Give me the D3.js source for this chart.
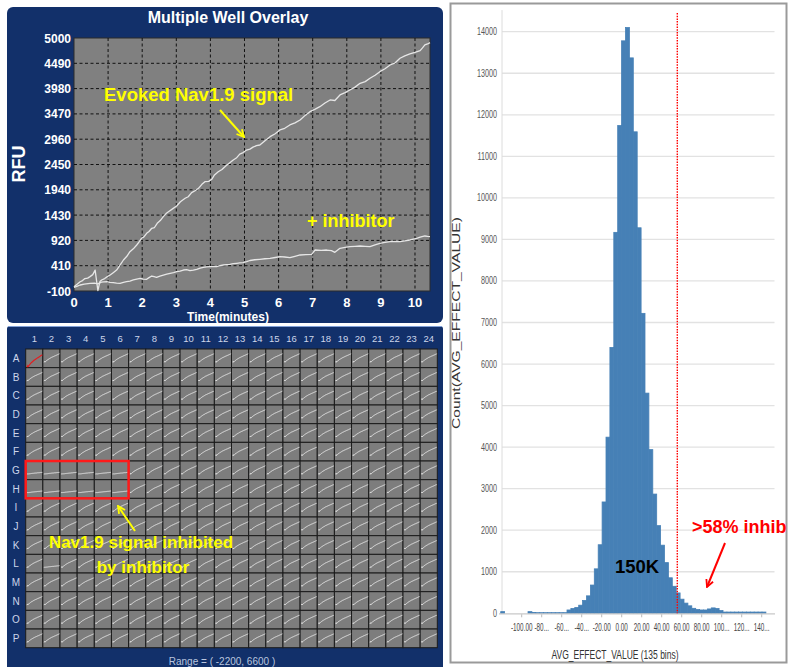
<!DOCTYPE html>
<html><head><meta charset="utf-8">
<script src="https://cdn.jsdelivr.net/npm/d3@7"></script>
<style>body{margin:0;background:#fff}svg{display:block}</style>
</head><body>
<svg id="c" width="796" height="667"></svg>
<script>
// ---------- DATA ----------
// Multiple Well Overlay traces (time in minutes, RFU)
const evokedTime = [0,0.1,0.18,0.25,0.32,0.4,0.47,0.55,0.62,0.7,0.76,0.81,0.9,1.0,1.06,1.15,1.25,1.35,1.45,1.55,1.64,1.74,1.84,1.92,1.98,2.05,2.13,2.2,2.28,2.36,2.44,2.53,2.62,2.7,2.77,2.9,3.01,3.12,3.26,3.35,3.45,3.55,3.65,3.75,3.84,3.95,4.04,4.12,4.23,4.34,4.45,4.56,4.67,4.76,4.86,4.96,5.06,5.16,5.25,5.35,5.45,5.6,5.75,5.9,6.04,6.18,6.33,6.48,6.63,6.78,6.92,7.06,7.21,7.36,7.51,7.65,7.8,7.95,8.09,8.24,8.39,8.54,8.68,8.83,8.97,9.12,9.27,9.42,9.56,9.7,9.85,10.0,10.15,10.22,10.29,10.37,10.44];
const evokedRFU = [-13,40,87,110,150,160,190,230,320,-90,90,122,150,200,222,270,323,420,525,600,692,750,827,900,962,990,1063,1100,1164,1180,1265,1320,1398,1460,1499,1560,1613,1700,1769,1800,1882,1920,1970,2050,2103,2110,2152,2240,2305,2350,2420,2480,2541,2580,2660,2690,2742,2760,2800,2830,2843,2930,3011,3070,3146,3180,3247,3290,3348,3440,3515,3560,3616,3690,3751,3740,3852,3900,3952,4010,4087,4120,4188,4250,4321,4380,4456,4500,4591,4640,4678,4710,4745,4800,4860,4880,4906];
const inhibTime = [0,0.1,0.18,0.3,0.47,0.6,0.7,0.8,0.96,1.05,1.15,1.25,1.35,1.45,1.54,1.64,1.74,1.84,1.94,2.03,2.13,2.2,2.28,2.35,2.42,2.52,2.62,2.72,2.82,2.92,3.01,3.11,3.21,3.3,3.4,3.5,3.6,3.7,3.79,3.89,3.99,4.08,4.18,4.28,4.38,4.47,4.57,4.67,4.77,4.86,4.96,5.06,5.16,5.3,5.45,5.6,5.75,5.9,6.04,6.18,6.33,6.48,6.63,6.8,6.97,7.07,7.25,7.41,7.55,7.65,7.8,7.95,8.09,8.24,8.39,8.54,8.68,8.83,8.97,9.12,9.27,9.42,9.56,9.7,9.85,9.95,10.05,10.15,10.29,10.37,10.44];
const inhibRFU = [-25,0,21,40,55,60,45,80,87,75,67,60,55,75,87,100,122,140,156,140,136,170,202,190,176,200,222,240,257,270,289,300,323,330,310,320,337,360,378,385,390,395,390,410,424,430,438,450,458,465,471,490,515,530,539,550,559,575,592,585,572,600,626,632,640,726,720,726,715,680,761,780,793,800,807,800,793,830,861,880,894,900,894,910,928,945,962,985,1009,1000,995];
const rfuTicks = [-100,410,920,1430,1940,2450,2960,3470,3980,4490,5000];
const timeTicks = [0,1,2,3,4,5,6,7,8,9,10];

// 384-well plate
const plateCols = ["1","2","3","4","5","6","7","8","9","10","11","12","13","14","15","16","17","18","19","20","21","22","23","24"];
const plateRows = ["A","B","C","D","E","F","G","H","I","J","K","L","M","N","O","P"];
const inhibitedWells = ["G1","G2","G3","G4","G5","G6","H1","H2","H3","H4","H5","H6","L2"];
const selectedWell = "A1";
const wellRange = [-2200, 6600];

// Histogram of AVG_EFFECT_VALUE
const binLower = [-121.0,-117.1,-113.2,-109.3,-105.4,-101.5,-97.6,-93.7,-89.8,-85.9,-82.0,-78.1,-74.2,-70.3,-66.4,-62.5,-58.6,-54.7,-50.8,-46.9,-43.0,-39.1,-35.2,-31.3,-27.4,-23.5,-19.6,-15.7,-11.8,-7.9,-4.0,-0.1,3.8,7.7,11.6,15.5,19.4,23.3,27.2,31.1,35.0,38.9,42.8,46.7,50.6,54.5,58.4,62.3,66.2,70.1,74.0,77.9,81.8,85.7,89.6,93.5,97.4,101.3,105.2,109.1,113.0,116.9,120.8,124.7,128.6,132.5,136.4,140.3];
const binWidth = 3.9;
const binCounts = [40,0,0,0,0,0,0,40,20,15,15,15,15,15,15,15,15,80,115,140,195,310,420,680,1070,1650,2680,4240,6400,9170,11740,13780,14100,13370,11590,9280,7220,5300,3940,2870,2110,1640,1220,855,650,490,340,245,180,120,90,80,80,105,130,115,65,30,30,30,30,30,30,30,30,30,30,30];
const countTicks = [0,1000,2000,3000,4000,5000,6000,7000,8000,9000,10000,11000,12000,13000,14000];
const effectTicks = [-100,-80,-60,-40,-20,0,20,40,60,80,100,120,140];
const effectTickLabels = ["-100.00","-80...","-60...","-40...","-20.00","0.00","20.00","40.00","60.00","80.00","100...","120...","140..."];
const threshold = 55.6;

// ---------- DRAW ----------
const NAVY = "#12306a";
const FONT = "'Liberation Sans', Arial, sans-serif";
const svg = d3.select("#c");
const defs = svg.append("defs");
function marker(id, color) {
  defs.append("marker").attr("id", id).attr("viewBox", "0 0 10 10")
    .attr("refX", 9).attr("refY", 5).attr("markerWidth", 4.5).attr("markerHeight", 4.5)
    .attr("orient", "auto").attr("markerUnits", "strokeWidth")
    .append("path").attr("d", "M1,1 L9,5 L1,9").attr("fill", "none")
    .attr("stroke", color).attr("stroke-width", 2);
}
marker("ay", "#ffff00");
marker("ar", "#ff0000");

// ===== Panel 1: Multiple Well Overlay =====
svg.append("rect").attr("x", 7).attr("y", 7).attr("width", 436).attr("height", 316)
  .attr("rx", 6).attr("fill", NAVY);
const xT = d3.scaleLinear().domain([0, 10.44]).range([74, 430]);
const yT = d3.scaleLinear().domain([-100, 5000]).range([291, 38]);
svg.append("rect").attr("x", xT(0)).attr("y", yT(5000))
  .attr("width", xT(10.44) - xT(0)).attr("height", yT(-100) - yT(5000))
  .attr("fill", "#808080").attr("stroke", "#2a2a2a").attr("stroke-width", 1);
const g1 = svg.append("g");
g1.selectAll("line.v").data(timeTicks.slice(1)).join("line")
  .attr("x1", d => xT(d)).attr("x2", d => xT(d)).attr("y1", yT(5000)).attr("y2", yT(-100))
  .attr("stroke", "#111").attr("stroke-width", 1).attr("stroke-dasharray", "3,2.5");
g1.selectAll("line.h").data(rfuTicks.slice(1, -1)).join("line")
  .attr("x1", xT(0)).attr("x2", xT(10.44)).attr("y1", d => yT(d)).attr("y2", d => yT(d))
  .attr("stroke", "#111").attr("stroke-width", 1).attr("stroke-dasharray", "3,2.5");
g1.selectAll("text.yt").data(rfuTicks).join("text")
  .attr("x", 71).attr("y", d => yT(d) + 4.5).attr("text-anchor", "end")
  .attr("fill", "#fff").attr("font-family", FONT).attr("font-weight", "bold").attr("font-size", 12)
  .text(d => d);
g1.selectAll("text.xt").data(timeTicks).join("text")
  .attr("x", d => xT(d)).attr("y", 306.5).attr("text-anchor", "middle")
  .attr("fill", "#fff").attr("font-family", FONT).attr("font-weight", "bold").attr("font-size", 13)
  .text(d => d);
svg.append("text").attr("x", 228).attr("y", 23).attr("text-anchor", "middle")
  .attr("fill", "#fff").attr("font-family", FONT).attr("font-weight", "bold").attr("font-size", 16)
  .text("Multiple Well Overlay");
svg.append("text").attr("x", 228).attr("y", 320.5).attr("text-anchor", "middle")
  .attr("fill", "#fff").attr("font-family", FONT).attr("font-weight", "bold").attr("font-size", 12)
  .text("Time(minutes)");
svg.append("text").attr("transform", "translate(25,164) rotate(-90)").attr("text-anchor", "middle")
  .attr("fill", "#fff").attr("font-family", FONT).attr("font-weight", "bold").attr("font-size", 18)
  .text("RFU");
const lineT = d3.line().x(d => xT(d[0])).y(d => yT(d[1]));
const evokedPts = evokedTime.map((t, i) => [t, evokedRFU[i]]);
const inhibPts = inhibTime.map((t, i) => [t, inhibRFU[i]]);
[evokedPts, inhibPts].forEach(p => {
  svg.append("path").attr("d", lineT(p)).attr("fill", "none")
    .attr("stroke", "#e6e6e6").attr("stroke-width", 1.3).attr("stroke-linejoin", "round");
});
svg.append("text").attr("x", 104).attr("y", 101).attr("fill", "#ffff00")
  .attr("font-family", FONT).attr("font-weight", "bold").attr("font-size", 18.5)
  .text("Evoked Nav1.9 signal");
svg.append("line").attr("x1", 220).attr("y1", 110).attr("x2", 244).attr("y2", 137)
  .attr("stroke", "#ffff00").attr("stroke-width", 2).attr("marker-end", "url(#ay)");
svg.append("text").attr("x", 307).attr("y", 227).attr("fill", "#ffff00")
  .attr("font-family", FONT).attr("font-weight", "bold").attr("font-size", 18)
  .text("+ inhibitor");

// ===== Panel 2: 384-well plate =====
svg.append("rect").attr("x", 7).attr("y", 326).attr("width", 436).attr("height", 345)
  .attr("rx", 3).attr("fill", NAVY);
svg.append("line").attr("x1", 8).attr("x2", 442).attr("y1", 326.5).attr("y2", 326.5)
  .attr("stroke", "#7f9fd6").attr("stroke-width", 1);
const xP = d3.scaleBand().domain(plateCols).range([25.7, 437.3]);
const yP = d3.scaleBand().domain(plateRows).range([349, 647.7]);
const gP = svg.append("g");
gP.selectAll("text.col").data(plateCols).join("text")
  .attr("x", d => xP(d) + xP.bandwidth() / 2).attr("y", 341.5).attr("text-anchor", "middle")
  .attr("fill", "#cdd6ea").attr("font-family", FONT).attr("font-size", 9.5).text(d => d);
gP.selectAll("text.row").data(plateRows).join("text")
  .attr("x", 16).attr("y", d => yP(d) + yP.bandwidth() / 2 + 3.5).attr("text-anchor", "middle")
  .attr("fill", "#cdd6ea").attr("font-family", FONT).attr("font-size", 10).text(d => d);
const wells = [];
plateRows.forEach(r => plateCols.forEach(c => wells.push({ r, c, id: r + c })));
const cw = xP.bandwidth(), ch = yP.bandwidth();
gP.selectAll("rect.well").data(wells).join("rect")
  .attr("x", d => xP(d.c)).attr("y", d => yP(d.r)).attr("width", cw).attr("height", ch)
  .attr("fill", "#7d7d7d").attr("stroke", "#1b1b1b").attr("stroke-width", 1);
wells.forEach(w => {
  const x0 = xP(w.c), y0 = yP(w.r);
  const sel = w.id === selectedWell;
  const mx = d3.scaleLinear().domain([0, 10.44]).range([x0 + 1, x0 + cw - 0.5]);
  const my = sel ? d3.scaleLinear().domain([-100, 7000]).range([y0 + ch - 0.5, y0 + 0.5])
                 : d3.scaleLinear().domain(wellRange).range([y0 + ch - 2, y0 + 2]);
  const pts = inhibitedWells.includes(w.id) ? inhibPts : evokedPts;
  gP.append("path").attr("d", d3.line().x(d => mx(d[0])).y(d => my(d[1]))(pts))
    .attr("fill", "none").attr("stroke", sel ? "#e8191c" : "#f2f2f2")
    .attr("stroke-width", sel ? 1.1 : 0.9);
});
// highlight box around inhibited block
svg.append("rect").attr("x", xP("1")).attr("y", yP("G"))
  .attr("width", xP("6") + cw - xP("1")).attr("height", yP("H") + ch - yP("G"))
  .attr("fill", "none").attr("stroke", "#ff1a1a").attr("stroke-width", 2.5);
svg.append("line").attr("x1", 135).attr("y1", 531).attr("x2", 118).attr("y2", 506)
  .attr("stroke", "#ffff00").attr("stroke-width", 2).attr("marker-end", "url(#ay)");
svg.append("text").attr("x", 141).attr("y", 548).attr("text-anchor", "middle").attr("fill", "#ffff00")
  .attr("font-family", FONT).attr("font-weight", "bold").attr("font-size", 17)
  .text("Nav1.9 signal inhibited");
svg.append("text").attr("x", 143).attr("y", 573).attr("text-anchor", "middle").attr("fill", "#ffff00")
  .attr("font-family", FONT).attr("font-weight", "bold").attr("font-size", 17)
  .text("by inhibitor");
svg.append("text").attr("x", 222).attr("y", 665).attr("text-anchor", "middle")
  .attr("fill", "#b9c5de").attr("font-family", FONT).attr("font-size", 10)
  .text("Range = ( -2200, 6600 )");

// ===== Panel 3: Histogram =====
svg.append("rect").attr("x", 450.5).attr("y", 3.5).attr("width", 336).attr("height", 659)
  .attr("fill", "#fff").attr("stroke", "#9a9a9a").attr("stroke-width", 2);
const xH = d3.scaleLinear().domain([-122.7, 153.3]).range([499, 775]);
const yH = d3.scaleLinear().domain([0, 14000]).range([613.3, 31.7]);
const gH = svg.append("g");
gH.selectAll("line.grid").data(countTicks.slice(1)).join("line")
  .attr("x1", 502).attr("x2", 774.5).attr("y1", d => yH(d)).attr("y2", d => yH(d))
  .attr("stroke", "#e2e2e2").attr("stroke-width", 1.3);
gH.append("line").attr("x1", 502).attr("x2", 502).attr("y1", yH(14520)).attr("y2", yH(0))
  .attr("stroke", "#dcdcdc").attr("stroke-width", 1);
gH.selectAll("rect.bar").data(binCounts.map((c, i) => ({ x0: binLower[i], c })))
  .join("rect")
  .attr("x", d => xH(d.x0)).attr("width", d => xH(d.x0 + binWidth) - xH(d.x0))
  .attr("y", d => yH(d.c)).attr("height", d => yH(0) - yH(d.c))
  .attr("fill", "#4680b6").attr("stroke", "#4680b6").attr("stroke-width", 0.8);
gH.append("line").attr("x1", 499).attr("x2", 775).attr("y1", yH(0) + 0.5).attr("y2", yH(0) + 0.5)
  .attr("stroke", "#c8c8c8").attr("stroke-width", 1.2);
gH.selectAll("line.xt").data(effectTicks).join("line")
  .attr("x1", d => xH(d)).attr("x2", d => xH(d)).attr("y1", yH(0) + 1).attr("y2", yH(0) + 4)
  .attr("stroke", "#bbb");
gH.selectAll("text.yl").data(countTicks).join("text")
  .attr("transform", d => `translate(497,${yH(d) + 3.5}) scale(0.72,1)`)
  .attr("text-anchor", "end").attr("fill", "#555").attr("font-family", FONT).attr("font-size", 10)
  .text(d => d);
gH.selectAll("text.xl").data(effectTicks).join("text")
  .attr("transform", d => `translate(${xH(d)},630.5) scale(0.55,1)`)
  .attr("text-anchor", "middle").attr("fill", "#444").attr("font-family", FONT).attr("font-size", 11.5)
  .text((d, i) => effectTickLabels[i]);
svg.append("text").attr("transform", "translate(615,658.5) scale(0.63,1)").attr("text-anchor", "middle")
  .attr("fill", "#333").attr("font-family", FONT).attr("font-size", 13.5)
  .text("AVG_EFFECT_VALUE (135 bins)");
svg.append("text").attr("transform", "translate(460,323) rotate(-90) scale(1.42,1)").attr("text-anchor", "middle")
  .attr("fill", "#333").attr("font-family", FONT).attr("font-size", 11)
  .text("Count(AVG_EFFECT_VALUE)");
svg.append("line").attr("x1", xH(threshold)).attr("x2", xH(threshold)).attr("y1", 13).attr("y2", yH(0))
  .attr("stroke", "#ff0000").attr("stroke-width", 1.4).attr("stroke-dasharray", "1.5,1.2");
svg.append("text").attr("x", 637).attr("y", 573).attr("text-anchor", "middle").attr("fill", "#000")
  .attr("font-family", FONT).attr("font-weight", "bold").attr("font-size", 18.5).text("150K");
svg.append("text").attr("x", 692).attr("y", 533).attr("fill", "#ff0000")
  .attr("font-family", FONT).attr("font-weight", "bold").attr("font-size", 18).text(">58% inhib");
svg.append("line").attr("x1", 725).attr("y1", 543).attr("x2", 707).attr("y2", 587)
  .attr("stroke", "#ff0000").attr("stroke-width", 2).attr("marker-end", "url(#ar)");
</script>
</body></html>
